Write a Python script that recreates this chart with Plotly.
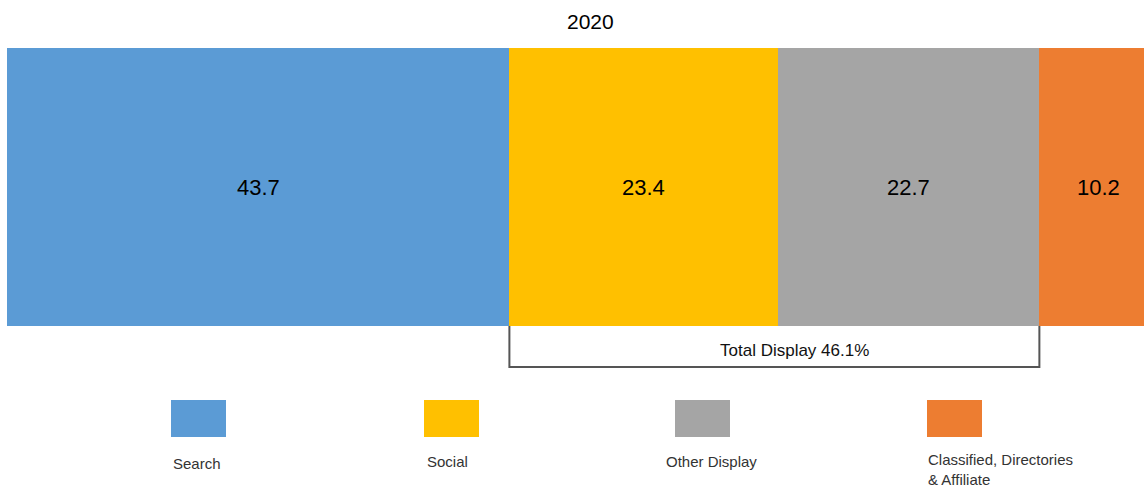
import plotly.graph_objects as go

# Share of digital ad spend by format, 2020 (%)
year = "2020"
categories = ["Search", "Social", "Other Display", "Classified, Directories<br>& Affiliate"]
shares = [43.7, 23.4, 22.7, 10.2]
colors = ["#5B9BD5", "#FFC000", "#A5A5A5", "#ED7D31"]
display_members = ["Social", "Other Display"]

W, H = 1144, 488
FONT = "Liberation Sans, Arial, sans-serif"


def fx(p):
    """pixel x -> paper x"""
    return p / W


def fy(p):
    """pixel y (from top) -> paper y"""
    return (H - p) / H


fig = go.Figure()
for cat, val, col in zip(categories, shares, colors):
    fig.add_trace(go.Bar(
        x=[val], y=[year], orientation="h", name=cat,
        marker=dict(color=col, line=dict(width=0)),
        showlegend=False, hoverinfo="x+name",
    ))

# value labels centred in each segment (y=0 is the single category row)
annotations = []
start = 0.0
starts = []
for val in shares:
    starts.append(start)
    annotations.append(dict(
        x=start + val / 2, y=0, xref="x", yref="y", text=f"{val:.1f}",
        showarrow=False, xanchor="center", yanchor="middle",
        font=dict(family=FONT, size=22, color="#000000"),
    ))
    start += val

# bracket under the display formats
idx = [categories.index(c) for c in display_members]
d0 = starts[idx[0]]
d1 = starts[idx[-1]] + shares[idx[-1]]
display_total = sum(shares[i] for i in idx)
shapes = [dict(
    type="path", xref="x", yref="paper",
    path=f"M {d0},{fy(326)} L {d0},{fy(367)} L {d1},{fy(367)} L {d1},{fy(326)}",
    line=dict(color="#555555", width=2),
)]
annotations.append(dict(
    x=(d0 + d1) / 2, y=fy(350), xref="x", yref="paper", xshift=20,
    text=f"Total Display {display_total:.1f}%", showarrow=False,
    xanchor="center", yanchor="middle",
    font=dict(family=FONT, size=17, color="#111111"),
))

# title
annotations.append(dict(
    x=fx(590), y=fy(22), xref="paper", yref="paper", text=year,
    showarrow=False, xanchor="center", yanchor="middle",
    font=dict(family=FONT, size=21, color="#000000"),
))

# custom legend: swatch above its label
legend_x = [171, 424, 675, 927]
label_x = [171, 425, 664, 926]
label_y = [463, 461, 461, 469]
for cat, col, lx, tx, ty in zip(categories, colors, legend_x, label_x, label_y):
    shapes.append(dict(
        type="rect", xref="paper", yref="paper",
        x0=fx(lx), x1=fx(lx + 55), y0=fy(437), y1=fy(400),
        fillcolor=col, line=dict(width=0),
    ))
    annotations.append(dict(
        x=fx(tx), y=fy(ty), xref="paper", yref="paper", text=cat,
        showarrow=False, xanchor="left", yanchor="middle", align="left",
        font=dict(family=FONT, size=15, color="#333333"),
    ))

fig.update_layout(
    width=W, height=H, barmode="stack", bargap=0,
    margin=dict(l=0, r=0, t=0, b=0),
    paper_bgcolor="white", plot_bgcolor="white",
    xaxis=dict(range=[0, 98.9], domain=[fx(7), 1], visible=False, fixedrange=True),
    yaxis=dict(type="category", range=[-0.5, 0.5], domain=[fy(326), fy(48)],
               visible=False, fixedrange=True),
    shapes=shapes, annotations=annotations,
)

fig.write_html("out.html")
